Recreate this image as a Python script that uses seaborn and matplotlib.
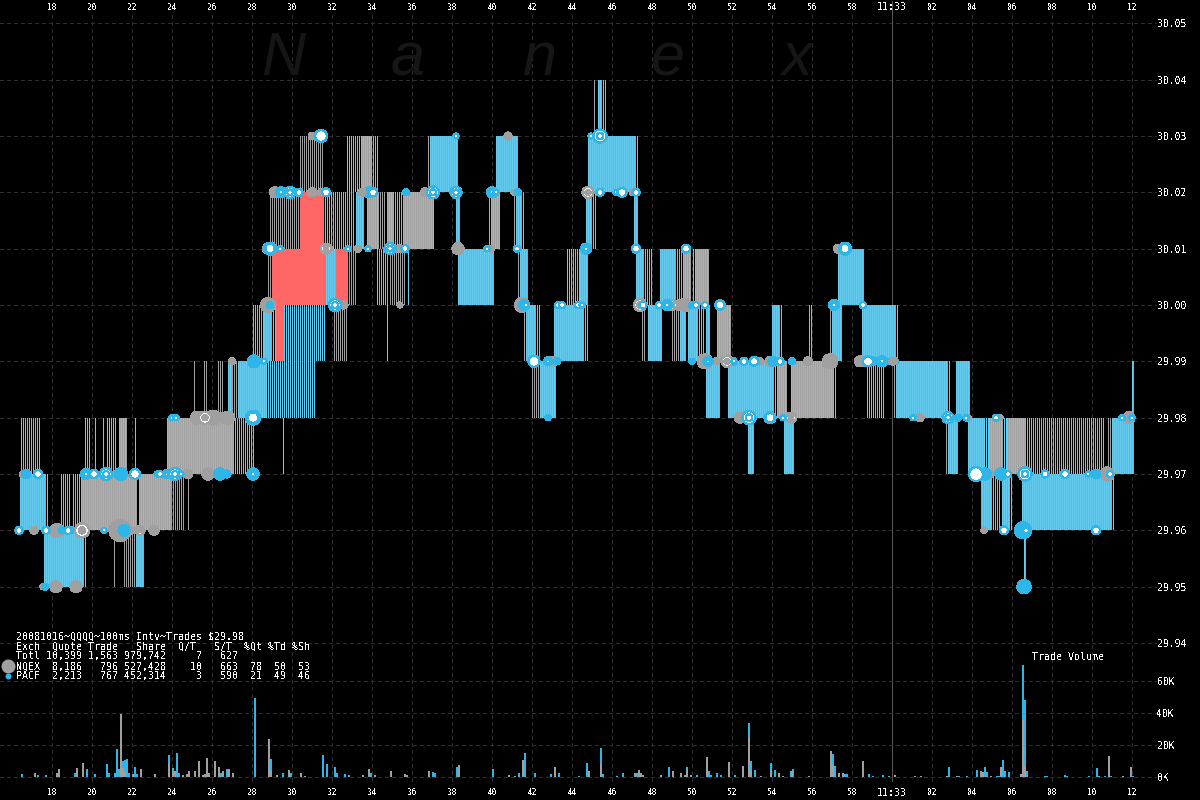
import matplotlib
matplotlib.use("Agg")
import matplotlib.pyplot as plt
import seaborn as sns
import numpy as np
import pandas as pd

# runs of 100ms stripes per one cent price band: (start sec, end sec, kind)
band_2995 = [(17.6, 19.6, "both"), (19.65, 19.7, "blue"), (21.1, 21.2, "gray"), (21.6, 22.15, "gray"),
             (22.2, 22.55, "both"), (66.6, 66.7, "both")]
band_2996 = [(16.4, 17.7, "both"), (17.75, 17.8, "blue"), (18.45, 18.95, "blue"), (19.05, 19.4, "blue"),
             (19.45, 22.2, "both"), (22.35, 23.9, "both"), (23.95, 24.6, "gray"), (24.8, 24.85, "gray"),
             (64.45, 64.5, "gray"), (64.5, 65.0, "both"), (65.05, 65.45, "blue"), (65.5, 65.9, "both"),
             (65.95, 66.0, "blue"), (66.5, 71.0, "both"), (71.05, 71.1, "blue")]
band_2997 = [(16.45, 17.45, "blue"), (19.65, 19.95, "blue"), (20.15, 20.2, "blue"), (20.55, 20.6, "blue"),
             (20.75, 21.25, "blue"), (21.35, 21.7, "both"), (22.15, 22.2, "blue"), (23.75, 27.0, "both"),
             (27.05, 28.1, "blue"), (29.55, 29.6, "blue"), (52.8, 53.1, "both"), (54.6, 55.1, "both"),
             (62.7, 62.75, "gray"), (62.8, 63.3, "both"), (63.8, 64.55, "both"), (64.6, 64.85, "blue"),
             (64.85, 65.55, "both"), (65.6, 65.75, "blue"), (65.75, 66.6, "both"), (66.65, 70.65, "blue"),
             (70.8, 71.0, "gray"), (71.0, 72.1, "both")]
band_2998 = [(25.1, 25.15, "gray"), (25.6, 25.8, "gray"), (26.3, 26.6, "gray"), (26.8, 27.0, "both"),
             (27.0, 27.3, "gray"), (27.3, 28.7, "both"), (28.7, 31.2, "blue"), (42.0, 42.4, "gray"),
             (42.4, 43.2, "both"), (50.7, 51.4, "both"), (51.8, 54.1, "both"), (54.15, 54.2, "blue"),
             (54.25, 54.7, "both"), (54.95, 57.0, "both"), (57.05, 57.25, "blue"), (58.75, 59.6, "blue"),
             (60.1, 60.15, "gray"), (60.2, 62.8, "both"), (62.85, 62.9, "blue"), (63.2, 63.9, "both"),
             (72.0, 72.1, "both")]
band_2999 = [(28.05, 28.6, "blue"), (28.6, 29.0, "both"), (29.05, 29.2, "blue"), (29.2, 29.6, "red"),
             (29.6, 31.7, "blue"), (32.1, 32.75, "gray"), (34.75, 34.8, "blue"), (41.6, 41.65, "gray"),
             (41.7, 42.2, "both"), (42.25, 42.45, "blue"), (43.1, 44.6, "both"), (44.65, 44.8, "blue"),
             (47.5, 47.7, "gray"), (47.8, 48.5, "both"), (49.0, 49.35, "gray"), (49.4, 49.7, "both"),
             (49.8, 50.3, "both"), (50.35, 50.65, "blue"), (50.7, 50.9, "both"), (51.25, 51.9, "both"),
             (54.0, 54.4, "both"), (54.45, 54.5, "blue"), (55.85, 56.05, "blue"), (56.9, 56.95, "gray"),
             (57.0, 57.5, "both"), (58.5, 60.2, "both"), (60.25, 60.3, "blue")]
band_3000 = [(28.8, 29.0, "gray"), (29.0, 31.7, "red"), (31.7, 32.2, "both"), (32.2, 32.8, "red"),
             (32.85, 33.25, "gray"), (34.25, 34.85, "blue"), (34.9, 35.7, "gray"), (35.8, 35.85, "blue"),
             (38.3, 40.05, "both"), (41.3, 41.35, "gray"), (41.4, 41.8, "both"), (43.75, 44.4, "blue"),
             (44.4, 44.8, "both"), (47.2, 47.6, "both"), (47.65, 48.0, "blue"), (48.4, 49.2, "both"),
             (49.25, 49.5, "blue"), (49.55, 49.9, "both"), (50.05, 50.1, "blue"), (50.15, 50.8, "both"),
             (57.3, 58.6, "both")]
band_3001 = [(28.9, 30.35, "gray"), (30.4, 31.6, "red"), (31.65, 33.15, "blue"), (33.2, 33.6, "both"),
             (33.75, 34.35, "both"), (34.4, 34.7, "gray"), (34.75, 35.0, "both"), (35.05, 35.5, "blue"),
             (35.55, 37.0, "both"), (37.05, 37.1, "blue"), (38.2, 38.4, "both"), (39.85, 39.9, "blue"),
             (39.95, 40.3, "both"), (40.35, 40.4, "blue"), (41.1, 41.2, "gray"), (41.2, 41.5, "both"),
             (41.55, 41.6, "blue"), (44.7, 45.0, "both"), (45.05, 45.25, "blue"), (47.1, 47.3, "both")]
band_3002 = [(30.4, 31.55, "gray"), (32.75, 33.4, "blue"), (33.45, 33.9, "both"), (33.95, 34.3, "blue"),
             (36.8, 36.85, "gray"), (36.9, 38.3, "both"), (40.2, 41.3, "both"), (44.8, 47.2, "both"),
             (47.25, 47.3, "blue")]
band_3003 = [(45.1, 45.2, "gray"), (45.3, 45.45, "both"), (45.55, 45.75, "blue")]

bands = {29.95: band_2995, 29.96: band_2996, 29.97: band_2997, 29.98: band_2998, 29.99: band_2999,
         30.00: band_3000, 30.01: band_3001, 30.02: band_3002, 30.03: band_3003}

# trade dots: (sec, price, diameter)
dots_gray = [(17.55, 29.95, 5), (18.2, 29.95, 11), (19.2, 29.95, 11), (17.1, 29.96, 7), (18.25, 29.96, 13),
             (21.4, 29.96, 21), (21.9, 29.96, 7), (23.1, 29.96, 9), (16.55, 29.97, 6), (21.15, 29.97, 6),
             (25.8, 29.97, 11), (25.25, 29.98, 12), (26.05, 29.98, 14), (26.5, 29.98, 10), (26.8, 29.98, 12),
             (27.0, 29.99, 6), (28.8, 30.0, 14), (35.4, 30.0, 5), (41.5, 30.0, 14), (57.3, 30.01, 8),
             (49.35, 30.0, 9), (49.65, 30.0, 12), (31.85, 30.01, 6), (33.3, 30.01, 6), (35.4, 30.01, 7),
             (38.3, 30.01, 11), (39.95, 30.01, 6), (28.8, 30.01, 10), (29.15, 30.02, 10), (31.0, 30.02, 8),
             (31.45, 30.02, 6), (47.05, 30.02, 6), (41.1, 30.02, 5), (31.0, 30.03, 6), (40.8, 30.03, 7),
             (50.65, 29.99, 14), (53.4, 29.99, 6), (53.9, 29.99, 9), (56.9, 29.99, 14), (58.4, 29.99, 10),
             (43.05, 29.99, 9), (52.4, 29.98, 10), (61.4, 29.98, 7), (63.75, 29.98, 6), (65.4, 29.98, 5),
             (71.85, 29.98, 11), (63.8, 29.98, 5), (64.4, 29.97, 7), (64.9, 29.97, 7), (70.75, 29.97, 13),
             (64.6, 29.96, 5)]
dots_blue = [(17.65, 29.95, 6), (66.6, 29.95, 13), (18.5, 29.96, 6), (19.0, 29.96, 6), (21.6, 29.96, 11),
             (66.55, 29.96, 16), (16.7, 29.97, 8), (21.45, 29.97, 12), (26.4, 29.97, 11), (26.75, 29.97, 7),
             (64.65, 29.97, 11), (65.45, 29.97, 11), (70.2, 29.97, 8), (42.8, 29.98, 5), (63.3, 29.98, 6),
             (28.1, 29.99, 12), (43.25, 29.99, 6), (50.0, 29.99, 5), (52.05, 29.99, 7), (54.05, 29.99, 9),
             (55.0, 29.99, 6), (59.05, 29.99, 8), (59.8, 29.99, 5), (60.15, 29.99, 6), (28.9, 30.0, 6),
             (41.6, 30.0, 10), (50.0, 30.0, 6), (33.85, 30.02, 10), (35.7, 30.02, 6), (41.3, 30.02, 6)]
dots_white = [(16.35, 29.96, 7), (17.7, 29.96, 7), (18.8, 29.96, 7), (20.6, 29.96, 5), (65.6, 29.96, 8),
              (66.7, 29.96, 6), (70.2, 29.96, 8), (17.3, 29.97, 8), (20.1, 29.97, 8), (22.15, 29.97, 10),
              (23.25, 29.97, 5), (23.4, 29.97, 6), (24.45, 29.97, 5), (65.8, 29.97, 6), (67.65, 29.97, 7),
              (68.65, 29.97, 8), (69.8, 29.97, 5), (70.9, 29.97, 6), (64.2, 29.97, 14), (24.0, 29.98, 5),
              (24.2, 29.98, 5), (54.55, 29.98, 5), (61.05, 29.98, 5), (63.7, 29.98, 5), (65.2, 29.98, 6),
              (71.5, 29.98, 5), (72.0, 29.98, 5), (42.1, 29.99, 11), (52.1, 29.99, 5), (52.6, 29.99, 7),
              (54.4, 29.99, 7), (58.8, 29.99, 10), (28.6, 29.99, 5), (41.7, 30.0, 5), (43.3, 30.0, 6),
              (43.5, 30.0, 6), (44.3, 30.0, 6), (44.5, 30.0, 5), (47.55, 30.0, 7), (48.35, 30.0, 6),
              (50.2, 30.0, 6), (50.65, 30.0, 6), (51.4, 30.0, 9), (58.55, 30.0, 6), (29.4, 30.01, 5),
              (32.8, 30.01, 5), (33.8, 30.01, 5), (35.65, 30.01, 7), (39.75, 30.01, 5), (41.25, 30.01, 6),
              (47.2, 30.01, 8), (49.7, 30.01, 8), (30.35, 30.02, 7), (31.7, 30.02, 8), (34.05, 30.02, 8),
              (40.2, 30.02, 5), (45.4, 30.02, 7), (46.2, 30.02, 5), (46.5, 30.02, 9), (47.2, 30.02, 7),
              (31.45, 30.03, 12), (38.2, 30.03, 5), (44.95, 30.03, 5)]
dots_ring = [(19.7, 29.97, 10), (20.7, 29.97, 12), (23.75, 29.97, 8), (24.15, 29.97, 12), (28.05, 29.97, 11),
             (66.65, 29.97, 13), (32.15, 30.0, 12), (48.75, 30.0, 10), (57.1, 30.0, 10), (34.9, 30.01, 11),
             (44.7, 30.01, 10), (29.45, 30.02, 10), (29.9, 30.02, 11), (37.05, 30.02, 12), (38.2, 30.02, 11),
             (40.0, 30.02, 10), (45.4, 30.03, 13), (50.8, 29.99, 9), (59.5, 29.99, 10), (42.8, 29.99, 8),
             (52.85, 29.98, 13), (62.8, 29.98, 11)]
dots_bullseye = [(28.05, 29.98, 14), (28.9, 30.01, 12), (57.65, 30.01, 12), (53.9, 29.98, 11), (53.1, 29.99, 9)]
dots_target = [(19.5, 29.96, 14), (22.4, 29.96, 9), (24.8, 29.97, 8), (25.65, 29.98, 12), (47.4, 30.0, 12),
               (49.0, 30.0, 10), (32.6, 30.0, 7), (31.7, 30.01, 10), (33.5, 30.02, 7), (36.65, 30.02, 8),
               (44.8, 30.02, 11), (51.2, 29.99, 6), (51.75, 29.99, 11), (55.8, 29.99, 8), (60.05, 29.99, 7),
               (54.95, 29.98, 10)]

# trade volume in thousands per 100ms
vol_blue_sec = [16.5, 17.3, 17.7, 19.15, 19.75, 20.15, 20.75, 20.85, 21.15, 21.25, 21.35, 21.55, 21.65, 21.75,
                21.85, 22.15, 22.25, 23.85, 24.05, 24.25, 24.35, 26.45, 26.75, 28.15, 28.95, 29.55, 29.95,
                31.55, 31.75, 32.15, 32.25, 32.65, 32.85, 33.95, 37.05, 37.15, 38.25, 40.05, 41.35, 41.65,
                42.15, 42.95, 43.35, 44.35, 44.75, 45.45, 45.55, 46.25, 46.55, 47.25, 48.85, 49.75, 50.25,
                50.85, 50.95, 51.25, 51.45, 52.15, 52.85, 52.95, 53.15, 53.95, 54.15, 54.95, 55.05, 57.05,
                57.15, 57.65, 57.75, 58.85, 59.05, 59.55, 59.85, 62.85, 63.35, 63.75, 64.25, 64.65, 64.75,
                65.25, 65.35, 65.55, 65.65, 65.85, 66.55, 66.65, 66.75, 67.65, 67.75, 68.65, 68.75, 69.85,
                70.25, 70.35, 70.65, 70.95, 72.05]
vol_blue_k = [2.1, 1.0, 1.0, 2.7, 4.8, 1.7, 7.9, 2.7, 2.3, 17.7, 5.2, 10.0, 10.6, 11.5,
              2.7, 6.5, 1.7, 13.5, 5.8, 15.2, 2.3, 2.7, 4.8, 49.2, 11.5, 2.7, 2.3,
              13.5, 7.9, 6.5, 2.7, 1.7, 1.0, 2.7, 2.9, 2.3, 6.5, 4.8, 2.3, 14.8,
              2.3, 1.7, 2.3, 0.4, 8.5, 17.9, 1.7, 0.6, 2.3, 2.7, 6.0, 6.0, 1.0,
              3.5, 1.0, 2.3, 1.0, 1.0, 34.0, 9.8, 4.2, 8.5, 4.2, 3.5, 4.8, 14.4,
              6.9, 1.9, 1.9, 1.9, 0.6, 1.2, 0.6, 6.3, 0.6, 0.6, 4.4, 6.3, 3.1,
              0.6, 0.6, 10.6, 3.8, 3.1, 70.0, 48.1, 3.8, 0.6, 0.6, 1.2, 0.6, 0.6,
              5.6, 0.6, 0.6, 0.6, 0.6]
vol_gray_sec = [17.15, 18.25, 18.35, 19.25, 19.55, 21.45, 21.55, 21.65, 22.05, 22.45, 23.15, 23.85, 24.05, 24.15,
                24.55, 24.75, 24.85, 25.15, 25.35, 25.55, 25.65, 25.75, 25.85, 26.15, 26.35, 26.55, 26.85,
                27.05, 28.85, 28.95, 29.25, 29.85, 30.45, 30.65, 33.55, 33.85, 34.15, 34.95, 35.65, 35.75,
                36.85, 38.35, 40.85, 41.15, 41.55, 43.15, 44.85, 45.45, 47.15, 47.35, 47.45, 47.55, 48.45,
                49.05, 49.45, 49.65, 49.75, 49.95, 50.75, 51.85, 52.55, 52.85, 52.95, 53.45, 53.95, 54.35,
                54.55, 55.0, 55.85, 56.95, 57.05, 57.35, 57.55, 58.55, 60.15, 61.15, 61.45, 62.75, 63.25,
                64.45, 64.55, 64.75, 64.95, 65.45, 66.45, 66.55, 66.65, 70.85, 71.55, 71.95]
vol_gray_k = [2.3, 2.7, 4.8, 5.8, 9.0, 39.2, 5.8, 3.1, 1.7, 4.8, 1.7, 9.0, 3.8, 3.8,
              1.0, 1.7, 3.5, 3.5, 9.8, 1.0, 1.7, 11.7, 2.7, 9.8, 6.5, 4.0, 4.8,
              2.3, 23.5, 3.8, 1.0, 4.2, 2.3, 0.6, 1.0, 4.8, 1.0, 3.5, 2.1, 1.0,
              3.5, 7.3, 1.0, 0.6, 10.4, 6.0, 3.5, 7.9, 2.3, 4.2, 2.7, 1.0, 1.0,
              3.5, 2.3, 1.0, 4.8, 1.0, 12.3, 9.2, 6.7, 24.6, 3.8, 0.6, 3.8, 2.3,
              0.6, 3.8, 0.6, 16.3, 7.5, 2.5, 2.5, 10.0, 1.2, 0.6, 0.6, 0.6, 0.6,
              3.8, 3.1, 0.6, 0.6, 6.3, 1.9, 35.6, 6.9, 13.1, 0.6, 6.3]

sec_ticks = list(range(18, 74, 2))
sec_labels = ["18", "20", "22", "24", "26", "28", "30", "32", "34", "36", "38", "40", "42", "44", "46", "48",
              "50", "52", "54", "56", "58", "11:33", "02", "04", "06", "08", "10", "12"]
price_ticks = [29.94, 29.95, 29.96, 29.97, 29.98, 29.99, 30.00, 30.01, 30.02, 30.03, 30.04, 30.05]
vol_ticks = [0, 20, 40, 60]
vol_labels = ["0K", "20K", "40K", "60K"]

table_lines = ["20081016~QQQQ~100ms Intv~Trades $29.98",
               "Exch  Quote Trade   Share  Q/T   S/T  %Qt %Td %Sh",
               "Totl 10,399 1,563 979,742     7   627",
               "NQEX  8,186   796 527,428    10   663  78  50  53",
               "PACF  2,213   767 452,314     3   590  21  49  46"]
watermark = ["N", "a", "n", "e", "x"]

BLUE = "#2fb6e8"
STRIPE_BLUE = "#66ccf0"
GRAY = "#a0a0a0"
RED = "#ff6666"
GRID = "#2e2e2e"
MONO = "DejaVu Sans Mono"
PX = 0.72  # one pixel in points at dpi 100

sns.set_theme(style="dark", rc={"figure.facecolor": "black", "axes.facecolor": "black", "text.antialiased": False})
plt.rcParams["font.family"] = [MONO]

fig = plt.figure(figsize=(12, 8), dpi=100)
ax = fig.add_axes([0, 0, 1, 1])
ax_vol = fig.add_axes([0, 0, 1, 1], facecolor="none")
ax.set_xlim(15.4, 75.4)
ax.set_ylim(29.91214, 30.05414)
ax_vol.set_xlim(15.4, 75.4)
ax_vol.set_ylim(-14.375, 485.6)
for a in [ax, ax_vol]:
    for spine in a.spines.values():
        spine.set_visible(False)

# grid
ax.hlines(price_ticks, 15.4, 73.2, color=GRID, linewidth=PX, linestyle=(0, (4, 3)), zorder=1, antialiased=False)
ax_vol.hlines(vol_ticks, 15.4, 73.2, color=GRID, linewidth=PX, linestyle=(0, (4, 3)), zorder=1, antialiased=False)
even_ticks = [t for t in sec_ticks if t != 60]
ax.vlines(even_ticks, 29.9155, 30.052, color=GRID, linewidth=PX, linestyle=(0, (4, 3)), zorder=1, antialiased=False)
ax.vlines([60], 29.9155, 30.054, color="#555555", linewidth=PX, zorder=1, antialiased=False)

# stripes as one pixel wide bars, 0.05 sec is one pixel
stripes = {"blue": ([], []), "gray": ([], []), "red": ([], [])}
for low, runs in bands.items():
    for start, end, kind in runs:
        for t in np.arange(start, end - 0.01, 0.1):
            if kind == "blue" or kind == "both":
                stripes["blue"][0].append(t + 0.025)
                stripes["blue"][1].append(low)
            if kind == "gray":
                stripes["gray"][0].append(t + 0.025)
                stripes["gray"][1].append(low)
            if kind == "both":
                stripes["gray"][0].append(t + 0.075)
                stripes["gray"][1].append(low)
            if kind == "red":
                stripes["red"][0].extend([t + 0.025, t + 0.075])
                stripes["red"][1].extend([low, low])
for name, col in [("gray", GRAY), ("blue", STRIPE_BLUE), ("red", RED)]:
    ax.bar(stripes[name][0], 0.01, bottom=stripes[name][1], width=0.05, color=col, linewidth=0, zorder=2)

# dots, some kinds have an inner dot on top
layers = [(dots_gray, [(1, GRAY, GRAY)]),
          (dots_blue, [(1, BLUE, BLUE)]),
          (dots_target, [(1, "white", GRAY), (0.45, GRAY, GRAY)]),
          (dots_ring, [(1, "white", BLUE), (0.5, "white", BLUE)]),
          (dots_bullseye, [(1, BLUE, BLUE), (0.4, "white", "white")]),
          (dots_white, [(1, "white", BLUE)])]
for dots, styles in layers:
    df = pd.DataFrame(dots, columns=["sec", "price", "d"])
    for scale, face, edge in styles:
        sns.scatterplot(data=df, x="sec", y="price", s=(df["d"] * scale * PX) ** 2, marker="o", color=face,
                        edgecolor=edge, linewidth=PX * 1.2, ax=ax, legend=False, zorder=3, antialiased=False)
ax.set_xlabel("")
ax.set_ylabel("")
ax.set_xlim(15.4, 75.4)
ax.set_ylim(29.91214, 30.05414)

# volume bars, gray over blue
ax_vol.bar(vol_blue_sec, vol_blue_k, width=0.1, color=BLUE, linewidth=0, antialiased=False, zorder=2)
ax_vol.bar(vol_gray_sec, vol_gray_k, width=0.1, color=GRAY, linewidth=0, antialiased=False, zorder=3)

# ticks and labels
ax.set_xticks(sec_ticks, sec_labels)
ax_vol.set_xticks(sec_ticks, sec_labels)
ax.tick_params(axis="x", length=0, bottom=False, top=False, labelbottom=False, labeltop=True, pad=-8.5, colors="white", labelsize=5.6)
ax_vol.tick_params(axis="x", length=0, bottom=False, top=False, labelbottom=True, labeltop=False, pad=-8.5, colors="white", labelsize=5.6)
for lab in ax.get_xticklabels(which="major") + ax_vol.get_xticklabels(which="major"):
    if lab.get_text() == "11:33":
        lab.set_fontsize(7.2)
ax.yaxis.tick_right()
ax_vol.yaxis.tick_right()
ax.set_yticks(price_ticks, [f"{p:.2f}" for p in price_ticks])
ax_vol.set_yticks(vol_ticks, vol_labels)
ax.tick_params(axis="y", length=0, right=False, left=False, pad=-31, colors="white", labelsize=7)
ax_vol.tick_params(axis="y", length=0, right=False, left=False, pad=-31, colors="white", labelsize=7)

# table in the lower left
for i, line in enumerate(table_lines):
    fig.text(16 / 1200, 1 - (636.5 + i * 10) / 800, line, color="white", fontsize=7.2, va="center", ha="left", family=MONO)
fig.text(1032 / 1200, 1 - 657.5 / 800, "Trade Volume", color="white", fontsize=7.1, va="center", ha="left", family=MONO)
ax_vol.scatter([0.0067], [1 - 666 / 800], s=(14 * PX) ** 2, color=GRAY, transform=ax_vol.transAxes, linewidth=0, clip_on=False)
ax_vol.scatter([0.0067], [1 - 676 / 800], s=(6 * PX) ** 2, color=BLUE, transform=ax_vol.transAxes, linewidth=0, clip_on=False)

# watermark
for letter, px in zip(watermark, [283, 408, 540, 668, 797]):
    fig.text(px / 1200, 1 - 75 / 800, letter, color="#161616", fontsize=44, style="italic", ha="center", va="baseline",
             family="Liberation Sans", antialiased=True, zorder=0)

fig.savefig("out.png", dpi=100, facecolor="black")
